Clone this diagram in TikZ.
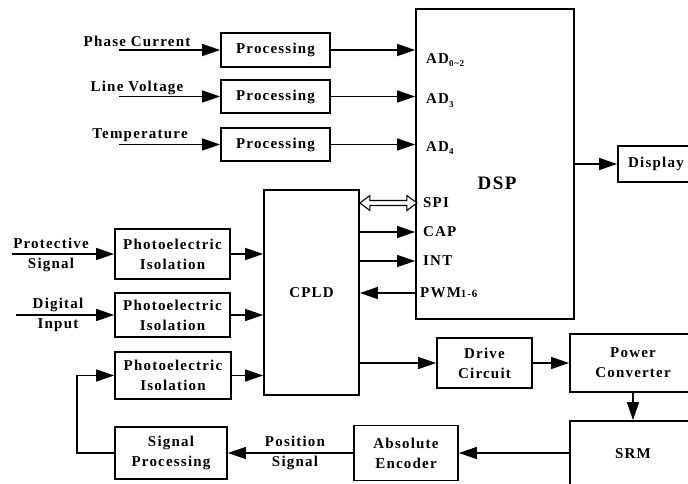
\documentclass[tikz,border=0pt]{standalone}
\usepackage{fontspec}
\setmainfont{Liberation Serif}[LetterSpace=8]
\usetikzlibrary{arrows.meta,calc}
\newcommand\lowsub[1]{\raisebox{-3.5pt}{\fontsize{9}{9}\selectfont #1}}
\begin{document}
\begin{tikzpicture}[x=1pt,y=-1pt,
  every node/.style={font=\bfseries\fontsize{15}{20}\selectfont, inner sep=0pt},
  box/.style={draw, line width=1.8pt, align=center},
  arr/.style={line width=1.4pt, -{Triangle[length=18pt,width=12pt]}},
  lbl/.style={align=center}]
\useasboundingbox (0,0) rectangle (688,484);

% boxes
\node[box, minimum width=109pt, minimum height=34pt] (proc1) at (275.5,50) {Processing};
\node[box, minimum width=109pt, minimum height=33pt] (proc2) at (275.5,96.5) {Processing};
\node[box, minimum width=109pt, minimum height=33pt] (proc3) at (275.5,144.5) {Processing};
\node[box, minimum width=158pt, minimum height=310pt] (dsp) at (495,164) {};
\node[font=\bfseries\fontsize{19}{22}\selectfont] (dsplbl) at (497,183) {DSP};
\node[box, minimum width=76pt, minimum height=36pt] (disp) at (656,164) {Display};
\node[box, minimum width=95pt, minimum height=205pt] (cpld) at (311.5,292.5) {CPLD};
\node[box, minimum width=115pt, minimum height=50pt] (photo1) at (172.5,254) {Photoelectric\\Isolation};
\node[box, minimum width=115pt, minimum height=44pt] (photo2) at (172.5,315) {Photoelectric\\Isolation};
\node[box, minimum width=116pt, minimum height=47pt] (photo3) at (173,375.5) {Photoelectric\\Isolation};
\node[box, minimum width=95pt, minimum height=50pt] (drive) at (484.5,363) {Drive\\Circuit};
\node[box, minimum width=126pt, minimum height=58pt] (power) at (633,363) {Power\\Converter};
\node[box, minimum width=126pt, minimum height=65pt] (srm) at (633,453.5) {SRM};
\node[box, minimum width=104pt, minimum height=55pt] (enc) at (406,453) {Absolute\\Encoder};
\node[box, minimum width=112pt, minimum height=52pt] (sp) at (171,453) {Signal\\Processing};

% DSP pin labels
\node[anchor=west] (ad02) at (426,60) {AD\lowsub{0\char"7E 2}};
\node[anchor=west] (ad3) at (426,100.5) {AD\lowsub{3}};
\node[anchor=west] (ad4) at (426,148) {AD\lowsub{4}};
\node[anchor=west] (spi) at (423,203) {SPI};
\node[anchor=west] (cap) at (423,232) {CAP};
\node[anchor=west] (int) at (423,261) {INT};
\node[anchor=west] (pwm) at (420,293) {PWM{\fontsize{11}{11}\selectfont 1-6}};

% input labels
\node (pcl) at (137,41) {Phase Current};
\node (lvl) at (137,88) {Line Voltage};
\node (tpl) at (140,135) {Temperature};
\node[lbl] (psl) at (51,255) {Protective\\Signal};
\node[lbl] (dil) at (58,315) {Digital\\Input};
\node[lbl] (posl) at (295,453) {Position\\Signal};

\coordinate (pcs) at (119,50);
\coordinate (lvs) at (119,96.5);
\coordinate (tps) at (119,144.5);
\coordinate (pss) at (12,254);
\coordinate (dis) at (16,315);

% connectors
\draw[arr] (pcs) -- (proc1.west);
\draw[arr] (lvs) -- (proc2.west);
\draw[arr] (tps) -- (proc3.west);
\draw[arr] (proc1.east) -- (proc1.east -| dsp.west);
\draw[arr] (proc2.east) -- (proc2.east -| dsp.west);
\draw[arr] (proc3.east) -- (proc3.east -| dsp.west);
\draw[arr] (dsp.east) -- (disp.west);

\draw[arr] (pss) -- (photo1.west);
\draw[arr] (dis) -- (photo2.west);
\draw[arr] (photo1.east) -- (photo1.east -| cpld.west);
\draw[arr] (photo2.east) -- (photo2.east -| cpld.west);
\draw[arr] (photo3.east) -- (photo3.east -| cpld.west);

\coordinate (spiL) at (cpld.east |- spi.west);
\draw[line width=1.1pt, fill=white] (spiL) -- ++(10,-7.5) -- ++(0,5) -- ++(37,0) -- ++(0,-5)
  -- ++(10,7.5) -- ++(-10,7.5) -- ++(0,-5) -- ++(-37,0) -- ++(0,5) -- cycle;
\draw[arr] (cpld.east |- cap.west) -- (dsp.west |- cap.west);
\draw[arr] (cpld.east |- int.west) -- (dsp.west |- int.west);
\draw[arr] (dsp.west |- pwm.west) -- (cpld.east |- pwm.west);

\draw[arr] (cpld.east |- drive.west) -- (drive.west);
\draw[arr] (drive.east) -- (drive.east -| power.west);
\draw[arr] (power.south) -- (srm.north);
\draw[arr] (srm.west |- enc.east) -- (enc.east);
\draw[arr] (enc.west) -- (enc.west -| sp.east);
\draw[arr] (sp.west) -- ++(-37,0) |- (photo3.west);
\end{tikzpicture}
\end{document}
